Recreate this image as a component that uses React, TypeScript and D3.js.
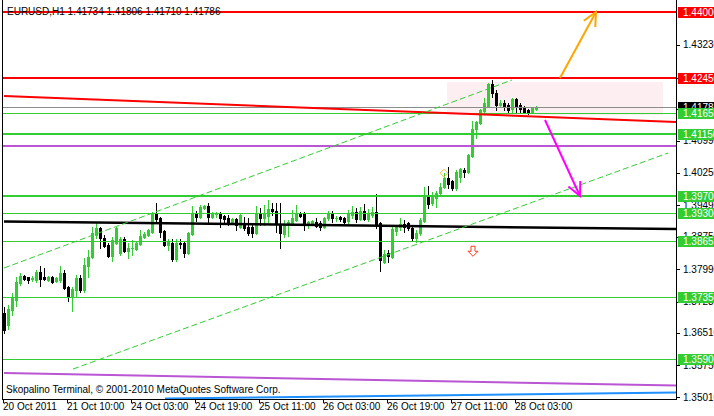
import React from 'react'
import * as d3 from 'd3'

// EURUSD H1 candles (bar 0 = 20 Oct 2011)
const opens = [
  1.3697, 1.3669, 1.3704, 1.3728, 1.3767, 1.3784, 1.3781, 1.3777, 1.3774, 1.3793,
  1.3781, 1.3774, 1.3781, 1.3772, 1.3774, 1.3791, 1.3758, 1.3735, 1.3751, 1.3779,
  1.3751, 1.3807, 1.3828, 1.3879, 1.3896, 1.3872, 1.3856, 1.3830, 1.3861, 1.3837,
  1.3870, 1.3842, 1.3848, 1.3847, 1.3858, 1.3875, 1.3879, 1.3886, 1.3931, 1.3919,
  1.3889, 1.3856, 1.3861, 1.3823, 1.3861, 1.3861, 1.3837, 1.3882, 1.3931, 1.3921,
  1.3942, 1.3947, 1.3921, 1.3929, 1.3931, 1.3924, 1.3919, 1.3907, 1.3917, 1.3898,
  1.3905, 1.3898, 1.3898, 1.3884, 1.3931, 1.3919, 1.3924, 1.3940, 1.3935, 1.3903,
  1.3882, 1.3905, 1.3907, 1.3914, 1.3931, 1.3931, 1.3905, 1.3905, 1.3910, 1.3907,
  1.3898, 1.3919, 1.3931, 1.3918, 1.3921, 1.3919, 1.3912, 1.3926, 1.3933, 1.3917,
  1.3935, 1.3917, 1.3926, 1.3933, 1.3907, 1.3816, 1.3837, 1.3828, 1.3889, 1.3898,
  1.3905, 1.3907, 1.3896, 1.3872, 1.3884, 1.3912, 1.3968, 1.3954, 1.3966, 1.3977,
  1.3991, 1.4012, 1.4005, 1.3989, 1.4015, 1.4031, 1.4026, 1.4064, 1.4127, 1.4141,
  1.4169, 1.4181, 1.4232, 1.4211, 1.4183, 1.4188, 1.4183, 1.4174, 1.4197, 1.4183,
  1.4176, 1.4171, 1.4167, 1.41734,
]
const highs = [
  1.3711, 1.3716, 1.3744, 1.3781, 1.3791, 1.3786, 1.3782, 1.3784, 1.3798, 1.3807,
  1.3802, 1.3784, 1.3784, 1.3782, 1.3807, 1.3798, 1.3760, 1.3758, 1.3786, 1.3786,
  1.3826, 1.3844, 1.3898, 1.3907, 1.3898, 1.3879, 1.3861, 1.3875, 1.3898, 1.3875,
  1.3875, 1.3861, 1.3868, 1.3865, 1.3891, 1.3886, 1.3893, 1.3933, 1.3954, 1.3921,
  1.3891, 1.3870, 1.3870, 1.3870, 1.3870, 1.3863, 1.3886, 1.3947, 1.3935, 1.3949,
  1.3949, 1.3954, 1.3933, 1.3933, 1.3933, 1.3926, 1.3926, 1.3919, 1.3919, 1.3931,
  1.3921, 1.3919, 1.3903, 1.3947, 1.3942, 1.3949, 1.3961, 1.3954, 1.3954, 1.3954,
  1.3914, 1.3914, 1.3938, 1.3949, 1.3933, 1.3933, 1.3912, 1.3914, 1.3919, 1.3912,
  1.3921, 1.3935, 1.3935, 1.3924, 1.3924, 1.3921, 1.3938, 1.3947, 1.3942, 1.3945,
  1.3952, 1.3940, 1.3945, 1.3975, 1.3910, 1.3844, 1.3844, 1.3898, 1.3900, 1.3919,
  1.3914, 1.3910, 1.3900, 1.3891, 1.3919, 1.3991, 1.3994, 1.3980, 1.3982, 1.4001,
  1.4024, 1.4038, 1.4008, 1.4031, 1.4036, 1.4036, 1.4068, 1.4146, 1.4146, 1.4174,
  1.4200, 1.4234, 1.4241, 1.4218, 1.4195, 1.4195, 1.4188, 1.4200, 1.4200, 1.4188,
  1.4181, 1.4174, 1.4178, 1.41806,
]
const lows = [
  1.3650, 1.3660, 1.3693, 1.3714, 1.3763, 1.3774, 1.3767, 1.3772, 1.3770, 1.3760,
  1.3774, 1.3772, 1.3767, 1.3770, 1.3770, 1.3753, 1.3725, 1.3702, 1.3735, 1.3746,
  1.3746, 1.3781, 1.3826, 1.3872, 1.3849, 1.3851, 1.3828, 1.3819, 1.3858, 1.3833,
  1.3840, 1.3826, 1.3833, 1.3844, 1.3856, 1.3872, 1.3877, 1.3884, 1.3907, 1.3875,
  1.3854, 1.3844, 1.3819, 1.3819, 1.3849, 1.3828, 1.3835, 1.3879, 1.3912, 1.3919,
  1.3940, 1.3910, 1.3919, 1.3921, 1.3898, 1.3910, 1.3903, 1.3905, 1.3891, 1.3896,
  1.3891, 1.3879, 1.3875, 1.3882, 1.3903, 1.3903, 1.3910, 1.3926, 1.3886, 1.3849,
  1.3875, 1.3877, 1.3903, 1.3912, 1.3921, 1.3891, 1.3896, 1.3903, 1.3898, 1.3891,
  1.3896, 1.3914, 1.3910, 1.3912, 1.3912, 1.3907, 1.3907, 1.3919, 1.3910, 1.3914,
  1.3914, 1.3912, 1.3921, 1.3896, 1.3795, 1.3814, 1.3816, 1.3826, 1.3879, 1.3891,
  1.3886, 1.3891, 1.3868, 1.3863, 1.3879, 1.3910, 1.3942, 1.3949, 1.3945, 1.3975,
  1.3989, 1.3989, 1.3984, 1.3984, 1.4003, 1.4015, 1.4024, 1.4061, 1.4106, 1.4139,
  1.4167, 1.4178, 1.4202, 1.4171, 1.4178, 1.4171, 1.4164, 1.4164, 1.4164, 1.4164,
  1.4164, 1.4162, 1.4164, 1.41710,
]
const closes = [
  1.3657, 1.3707, 1.3732, 1.3770, 1.3784, 1.3777, 1.3774, 1.3779, 1.3793, 1.3777,
  1.3777, 1.3781, 1.3770, 1.3779, 1.3791, 1.3756, 1.3735, 1.3753, 1.3779, 1.3751,
  1.3809, 1.3828, 1.3884, 1.3896, 1.3872, 1.3854, 1.3830, 1.3868, 1.3896, 1.3870,
  1.3842, 1.3849, 1.3849, 1.3861, 1.3877, 1.3882, 1.3891, 1.3931, 1.3917, 1.3886,
  1.3856, 1.3863, 1.3823, 1.3861, 1.3858, 1.3837, 1.3884, 1.3931, 1.3921, 1.3945,
  1.3947, 1.3921, 1.3931, 1.3931, 1.3919, 1.3917, 1.3907, 1.3917, 1.3903, 1.3926,
  1.3896, 1.3884, 1.3884, 1.3931, 1.3919, 1.3928, 1.3940, 1.3935, 1.3905, 1.3884,
  1.3903, 1.3910, 1.3919, 1.3931, 1.3924, 1.3905, 1.3910, 1.3912, 1.3900, 1.3898,
  1.3919, 1.3931, 1.3919, 1.3919, 1.3917, 1.3910, 1.3931, 1.3933, 1.3917, 1.3935,
  1.3917, 1.3928, 1.3933, 1.3905, 1.3821, 1.3835, 1.3830, 1.3893, 1.3898, 1.3905,
  1.3898, 1.3896, 1.3872, 1.3884, 1.3914, 1.3968, 1.3952, 1.3973, 1.3977, 1.3991,
  1.4012, 1.3998, 1.3989, 1.4026, 1.4033, 1.4026, 1.4066, 1.4127, 1.4144, 1.4171,
  1.4188, 1.4232, 1.4211, 1.4183, 1.4188, 1.4178, 1.4171, 1.4197, 1.4181, 1.4174,
  1.4167, 1.4167, 1.4176, 1.41786,
]

const timeLabels = ['20 Oct 2011', '21 Oct 10:00', '24 Oct 03:00', '24 Oct 19:00', '25 Oct 11:00', '26 Oct 03:00', '26 Oct 19:00', '27 Oct 11:00', '28 Oct 03:00']
const timeBars = [0, 16, 32, 48, 64, 80, 96, 112, 128]
const priceTicks = [1.4323, 1.4245, 1.4173, 1.4099, 1.4025, 1.3949, 1.3875, 1.3799, 1.3723, 1.3651, 1.3575, 1.3501]

// horizontal levels: price, colour, width
const levelPrices = [1.44, 1.4245, 1.4165, 1.4115, 1.40871, 1.397, 1.393, 1.38657, 1.3735, 1.359]
const levelColors = ['#ff0000', '#ff0000', '#32cd32', '#32cd32', '#ba55d3', '#32cd32', '#32cd32', '#32cd32', '#32cd32', '#32cd32']
const levelWidths = [2, 2, 1, 2, 2, 2, 1, 1, 1, 1]
const labelled = [true, true, true, true, false, true, true, true, true, true]

// trend lines [bar0, price0, bar1, price1]
const redTrend = [0, 1.42038, 168, 1.41432]
const blackTrend = [0, 1.39108, 168, 1.38932]
const purpleTrend = [0, 1.35569, 168, 1.35278]
const blueTrend = [40.25, 1.34974, 168, 1.35114]
const upperChannel = [0, 1.38022, 127, 1.42412]
const lowerChannel = [17.25, 1.35663, 166, 1.40707]
const upArrow = [139, 1.42459, 148, 1.44]
const downArrow = [135.25, 1.41478, 144, 1.39703]
const zoneBox = [110.75, 1.42365, 164.75, 1.41595]
const bid = 1.41786

const FONT = '"Liberation Sans", Arial, sans-serif'
const GREEN = '#32cd32'
const FS = 10

export default function App() {
  const W = 714, H = 416
  const plotRight = 676, plotBottom = 399
  const x = d3.scaleLinear().domain([0, 168]).range([4, 676])
  const y = d3.scaleLinear().domain([1.3501, 1.44]).range([397, 12])

  const seg = (t: number[]) => ({ x1: x(t[0]), y1: y(t[1]), x2: x(t[2]), y2: y(t[3]) })

  const arrow = (t: number[], color: string) => {
    const s = seg(t)
    const a = Math.atan2(s.y2 - s.y1, s.x2 - s.x1)
    const len = 15, sp = 0.45
    const b1 = [s.x2 - len * Math.cos(a - sp), s.y2 - len * Math.sin(a - sp)]
    const b2 = [s.x2 - len * Math.cos(a + sp), s.y2 - len * Math.sin(a + sp)]
    return (
      <g stroke={color} strokeWidth={2} fill="none">
        <line {...s} />
        <polyline points={`${b1[0]},${b1[1]} ${s.x2},${s.y2} ${b2[0]},${b2[1]}`} />
      </g>
    )
  }

  const labels = [
    { p: 1.44, bg: '#ff0000' },
    { p: 1.4245, bg: '#ff0000' },
    { p: bid, bg: '#000000' },
    ...levelPrices.filter((_, i) => labelled[i] && levelColors[i] === GREEN).map(p => ({ p, bg: GREEN })),
  ]

  return (
    <svg width={W} height={H} style={{ position: 'absolute', left: 0, top: 0, background: '#fff' }} fontFamily={FONT}>
      <defs>
        <clipPath id="plot">
          <rect x={3} y={0} width={plotRight - 3} height={plotBottom} />
        </clipPath>
      </defs>
      <rect width={W} height={H} fill="#fff" />

      <g clipPath="url(#plot)">
        {/* zone */}
        <rect x={x(zoneBox[0])} y={y(zoneBox[1])} width={x(zoneBox[2]) - x(zoneBox[0])} height={y(zoneBox[3]) - y(zoneBox[1])} fill="#fdeef2" />

        {/* candles */}
        <g shapeRendering="crispEdges">
          {opens.map((o, i) => {
            const c = closes[i]
            const up = c >= o
            const col = up ? GREEN : '#000'
            const cx = Math.round(x(i))
            const t = Math.round(y(Math.max(o, c)))
            const b = Math.round(y(Math.min(o, c)))
            return (
              <g key={i}>
                <line x1={cx + 0.5} x2={cx + 0.5} y1={Math.round(y(highs[i]))} y2={Math.round(y(lows[i])) + 1} stroke={col} />
                <rect x={cx - 1} y={t} width={3} height={Math.max(1, b - t + 1)} fill={col} />
              </g>
            )
          })}
        </g>

        {/* bid line */}
        <line x1={3} x2={plotRight} y1={Math.round(y(bid)) + 0.5} y2={Math.round(y(bid)) + 0.5} stroke="#8c8c8c" shapeRendering="crispEdges" />

        {/* horizontal levels */}
        {levelPrices.map((p, i) => {
          const yy = levelWidths[i] === 1 ? Math.round(y(p)) + 0.5 : Math.round(y(p))
          return <line key={i} x1={3} x2={plotRight} y1={yy} y2={yy} stroke={levelColors[i]} strokeWidth={levelWidths[i]} shapeRendering="crispEdges" />
        })}

        {/* trend lines */}
        <line {...seg(redTrend)} stroke="#ff0000" strokeWidth={2} />
        <line {...seg(blackTrend)} stroke="#000" strokeWidth={2.5} />
        <line {...seg(purpleTrend)} stroke="#ba55d3" strokeWidth={2} />
        <line {...seg(blueTrend)} stroke="#1e90ff" strokeWidth={2} />
        <line {...seg(upperChannel)} stroke={GREEN} strokeWidth={1} strokeDasharray="6,3" />
        <line {...seg(lowerChannel)} stroke={GREEN} strokeWidth={1} strokeDasharray="6,3" />

        {arrow(upArrow, '#ffa500')}
        {arrow(downArrow, '#ff00ff')}

        {/* small markers */}
        <path d={`M${x(117.25) - 2},${y(1.3853)} h4 v5 h3 l-5,5 l-5,-5 h3 z`} fill="#fff" stroke="#ff3c1e" strokeWidth={1} />
        <path d={`M${x(110)},${y(1.4033)} l4,4 l-4,4 l-4,-4 z`} fill="none" stroke="#f0c040" strokeWidth={1} />
      </g>

      {/* frame */}
      <g stroke="#000" shapeRendering="crispEdges">
        <line x1={2.5} x2={2.5} y1={0} y2={plotBottom + 0.5} />
        <line x1={plotRight + 0.5} x2={plotRight + 0.5} y1={0} y2={plotBottom + 0.5} />
        <line x1={2} x2={plotRight + 1} y1={plotBottom + 0.5} y2={plotBottom + 0.5} />
      </g>

      {/* title and footer */}
      <text x={7} y={15} fontSize={FS} fill="#000">EURUSD,H1  1.41734 1.41806 1.41710 1.41786</text>
      <text x={6} y={393} fontSize={FS} fill="#000">Skopalino Terminal, © 2001-2010 MetaQuotes Software Corp.</text>

      {/* price axis */}
      {priceTicks.map((p, i) => (
        <g key={i}>
          <line x1={677} x2={680} y1={Math.round(y(p)) + 0.5} y2={Math.round(y(p)) + 0.5} stroke="#000" shapeRendering="crispEdges" />
          <text x={683} y={y(p) + 3.5} fontSize={FS} fill="#000">{p.toFixed(5)}</text>
        </g>
      ))}
      {labels.map((l, i) => (
        <g key={i}>
          <rect x={678} y={Math.round(y(l.p)) - 5} width={40} height={11} fill={l.bg} />
          <text x={683} y={y(l.p) + 4} fontSize={FS} fill="#fff">{l.p.toFixed(5)}</text>
        </g>
      ))}

      {/* time axis */}
      {timeBars.map((b, i) => (
        <g key={i}>
          <line x1={Math.round(x(b)) - 0.5} x2={Math.round(x(b)) - 0.5} y1={plotBottom} y2={plotBottom + 4} stroke="#000" shapeRendering="crispEdges" />
          <text x={x(b) - 1} y={410} fontSize={FS} fill="#000">{timeLabels[i]}</text>
        </g>
      ))}
    </svg>
  )
}
